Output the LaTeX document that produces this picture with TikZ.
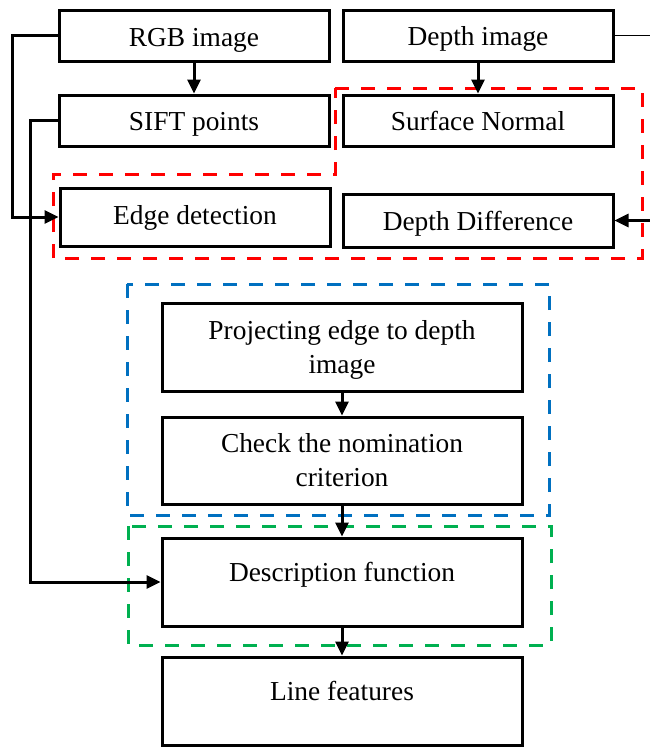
\documentclass[tikz,border=0pt]{standalone}
\usepackage{fontspec}
\setmainfont{Liberation Serif}
\usetikzlibrary{arrows.meta}
\definecolor{dred}{RGB}{255,0,0}
\definecolor{dblue}{RGB}{0,112,192}
\definecolor{dgreen}{RGB}{0,176,80}
\tikzset{
  box/.style={draw=black, line width=3pt, inner sep=0pt, minimum width=#1},
  txt/.style={inner sep=0pt, anchor=base, font=\fontsize{27.4}{34}\selectfont},
  arr/.style={line width=3pt, -{Triangle[length=14pt,width=13pt]}},
  dashbox/.style={line width=3pt, dash pattern=on 14pt off 12pt},
}
\begin{document}
\begin{tikzpicture}[x=1pt,y=-1pt]
\useasboundingbox (0,0) rectangle (649,747);
% top boxes
\node[box=270, minimum height=51] (rgb) at (194,35.5) {};
\node[box=270, minimum height=51] (sift) at (194,120.5) {};
\node[box=270, minimum height=58] (edge) at (195,217) {};
\node[box=270, minimum height=51] (depth) at (478,35.5) {};
\node[box=270, minimum height=51] (surf) at (478,120.5) {};
\node[box=270, minimum height=53] (ddiff) at (478,220.5) {};
% lower boxes
\node[box=360, minimum height=88] (proj) at (342,347) {};
\node[box=360, minimum height=87] (check) at (342,460.5) {};
\node[box=360, minimum height=88] (desc) at (342,582) {};
\node[box=360, minimum height=88] (line) at (342,701) {};
% texts
\node[txt] (rgbt) at (194,46) {RGB image};
\node[txt] (siftt) at (194,130) {SIFT points};
\node[txt] (edget) at (195,224) {Edge detection};
\node[txt] (deptht) at (478,45) {Depth image};
\node[txt] (surft) at (478,130) {Surface Normal};
\node[txt] (ddifft) at (478,230) {Depth Difference};
\node[txt] (projt) at (342,339) {\begin{tabular}[t]{@{}c@{}}Projecting edge to depth\\image\end{tabular}};
\node[txt] (checkt) at (342,452) {\begin{tabular}[t]{@{}c@{}}Check the nomination\\criterion\end{tabular}};
\node[txt] (desct) at (342,581) {Description function};
\node[txt] (linet) at (342,700) {Line features};
% dashed groups
\draw[dashbox, dred] (335,88) -- (642,88) -- (642,258) -- (53,258) -- (53,174) -- (335,174) -- cycle;
\draw[dashbox, dblue] (127,284) rectangle (549,515);
\draw[dashbox, dgreen] (128,526) rectangle (551,645);
% connectors
\draw[arr] (rgb) -- (sift);
\draw[arr] (depth) -- (surf);
\draw[arr] (proj) -- (check);
\draw[arr] (check) -- (desc);
\draw[arr] (desc) -- (line);
\draw[arr] (rgb.west) -- ++(-45,0) |- (edge.west);
\draw[arr] (sift.west) -- ++(-27,0) |- (desc.west);
\draw[line width=1.5pt] (depth.east) -- ++(45,0) coordinate (dcorner);
\draw[arr] (dcorner) |- (ddiff.east);
\end{tikzpicture}
\end{document}
